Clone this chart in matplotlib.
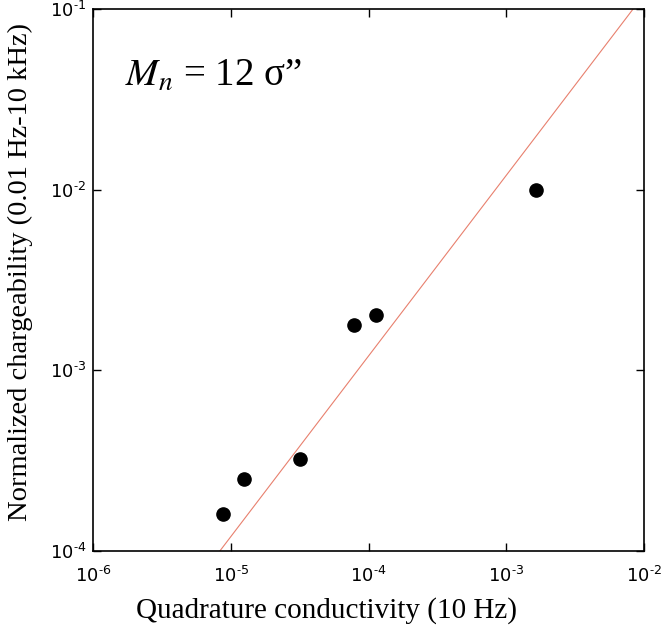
import matplotlib
matplotlib.use('Agg')
import matplotlib.pyplot as plt
import numpy as np

# quadrature conductivity (10 Hz) and normalized chargeability
sigma_q = [8.8e-6, 1.25e-5, 3.2e-5, 7.85e-5, 1.13e-4, 1.64e-3]
m_n = [1.6e-4, 2.5e-4, 3.23e-4, 1.78e-3, 2.02e-3, 1.0e-2]
fit_slope = 12
x_ticks = [1e-6, 1e-5, 1e-4, 1e-3, 1e-2]
y_ticks = [1e-4, 1e-3, 1e-2, 1e-1]

plt.rcParams['mathtext.fontset'] = 'custom'
plt.rcParams['mathtext.rm'] = 'Liberation Sans'
plt.rcParams['mathtext.it'] = 'Liberation Sans:italic'

fig = plt.figure(figsize=(6.61, 6.29), dpi=100)
ax = fig.add_axes([0.1407, 0.124, 0.8336, 0.8617])

xl = np.array([1e-6, 1e-2])
ax.plot(xl, fit_slope * xl, color='#e8806e', lw=0.8)
ax.plot(sigma_q, m_n, 'o', color='black', ms=9.5, zorder=3)

ax.set_xscale('log')
ax.set_yscale('log')
ax.set_xlim(1e-6, 1e-2)
ax.set_ylim(1e-4, 1e-1)

def sci(v):
    # hyphen instead of the minus sign, like the original
    return r'$\mathregular{10^{\text{-}%d}}$' % abs(int(round(np.log10(v))))

ax.set_xticks(x_ticks)
ax.set_xticklabels([sci(v) for v in x_ticks])
ax.set_yticks(y_ticks)
ax.set_yticklabels([sci(v) for v in y_ticks])
ax.minorticks_off()
ax.tick_params(which='major', direction='in', length=6, width=1,
               top=True, right=True, labelsize=13)
ax.tick_params(axis='x', pad=11)
ax.tick_params(axis='y', pad=5)
for s in ax.spines.values():
    s.set_linewidth(1.2)

ax.set_xlabel('Quadrature conductivity (10 Hz)', family='Liberation Serif',
              fontsize=21, labelpad=2)
ax.xaxis.set_label_coords(0.423, -0.085)
ax.set_ylabel('Normalized chargeability (0.01 Hz-10 kHz)', family='Liberation Serif',
              fontsize=20.5, labelpad=6)
ax.yaxis.set_label_coords(-0.108, 0.515)

ax.text(0.058, 0.875, '$M_n$ = 12 σ\u201d', transform=ax.transAxes,
        family='Liberation Serif', fontsize=28, math_fontfamily='stix',
        va='center', ha='left')

fig.savefig('out.png', dpi=100)
